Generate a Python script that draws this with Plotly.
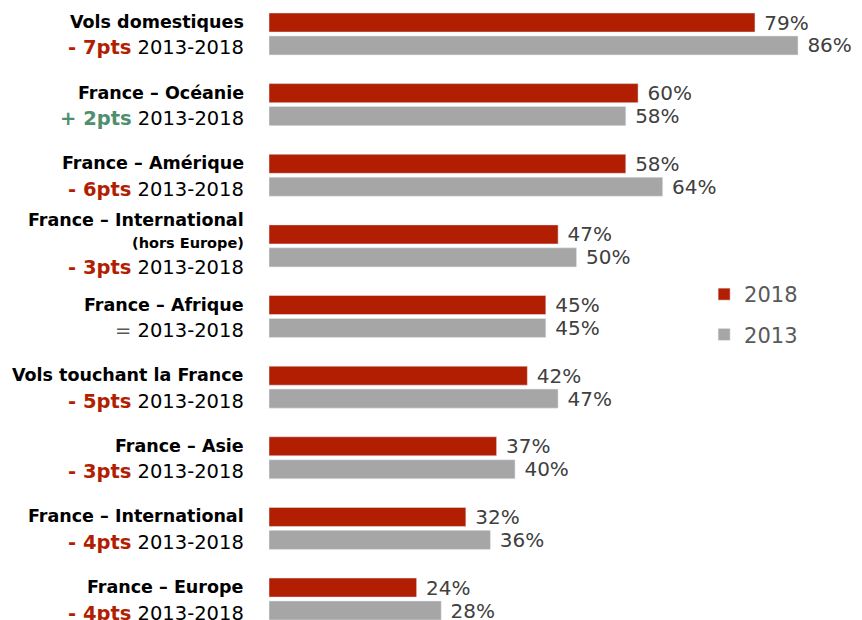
import plotly.graph_objects as go

# ===================================
# DATA
# ===================================
categories = [
    "Vols domestiques",
    "France – Océanie",
    "France – Amérique",
    "France – International",
    "France – Afrique",
    "Vols touchant la France",
    "France – Asie",
    "France – International ",
    "France – Europe",
]
subtitles = ["", "", "", "(hors Europe)", "", "", "", "", ""]
deltas = ["- 7pts", "+ 2pts", "- 6pts", "- 3pts", "=", "- 5pts", "- 3pts", "- 4pts", "- 4pts"]
values_2018 = [79, 60, 58, 47, 45, 42, 37, 32, 24]
values_2013 = [86, 58, 64, 50, 45, 47, 40, 36, 28]

RED = "#B21E02"
GRAY = "#A6A6A6"
GREEN = "#4E8F6E"
FONT = "DejaVu Sans"

def delta_color(d):
    if d.startswith("+"):
        return GREEN
    if d.startswith("-"):
        return RED
    return "#595959"

# ===================================
# FIGURE
# ===================================
fig = go.Figure()
for name, vals, col, grp in [("2018", values_2018, RED, "a"), ("2013", values_2013, GRAY, "b")]:
    fig.add_trace(go.Bar(
        y=categories, x=vals, orientation="h", name=name,
        marker_color=col, legendgroup=grp,
        text=[f" {v}%" for v in vals], textposition="outside", constraintext="none",
        textfont=dict(size=20, color="#404040", family=FONT), cliponaxis=False,
    ))

# left-side labels (category name + change since 2013)
for cat, sub, d in zip(categories, subtitles, deltas):
    title_shift = 26 if sub else 12
    delta_shift = -22 if sub else -14
    fig.add_annotation(
        x=0, xref="paper", y=cat, yref="y", xanchor="right", xshift=-23,
        yshift=title_shift, showarrow=False,
        text=f"<b>{cat.strip()}</b>", font=dict(size=17.5, color="black", family=FONT),
    )
    if sub:
        fig.add_annotation(
            x=0, xref="paper", y=cat, yref="y", xanchor="right", xshift=-23,
            yshift=3, showarrow=False,
            text=f"<b>{sub}</b>", font=dict(size=14.5, color="black", family=FONT),
        )
    dtxt = f"<b>{d}</b>" if d != "=" else d
    fig.add_annotation(
        x=0, xref="paper", y=cat, yref="y", xanchor="right", xshift=-23,
        yshift=delta_shift, showarrow=False,
        text=f"<span style='color:{delta_color(d)}'>{dtxt}</span> 2013-2018",
        font=dict(size=19.5, color="black", family=FONT),
    )

fig.update_layout(
    width=862, height=620,
    margin=dict(l=261, r=0, t=0, b=0),
    plot_bgcolor="white", paper_bgcolor="white",
    barmode="group", bargap=0.35, bargroupgap=0.17,
    font=dict(family=FONT),
    showlegend=True,
    legend=dict(
        x=0.724, y=0.571, xanchor="left", yanchor="top",
        font=dict(size=21, color="#595959", family=FONT),
        tracegroupgap=10, bgcolor="rgba(0,0,0,0)",
    ),
    xaxis=dict(range=[0, 97.7], visible=False),
    yaxis=dict(range=[8.41, -0.368], showticklabels=False, showgrid=False,
               zeroline=False, showline=False),
)

fig.write_html("out.html")
